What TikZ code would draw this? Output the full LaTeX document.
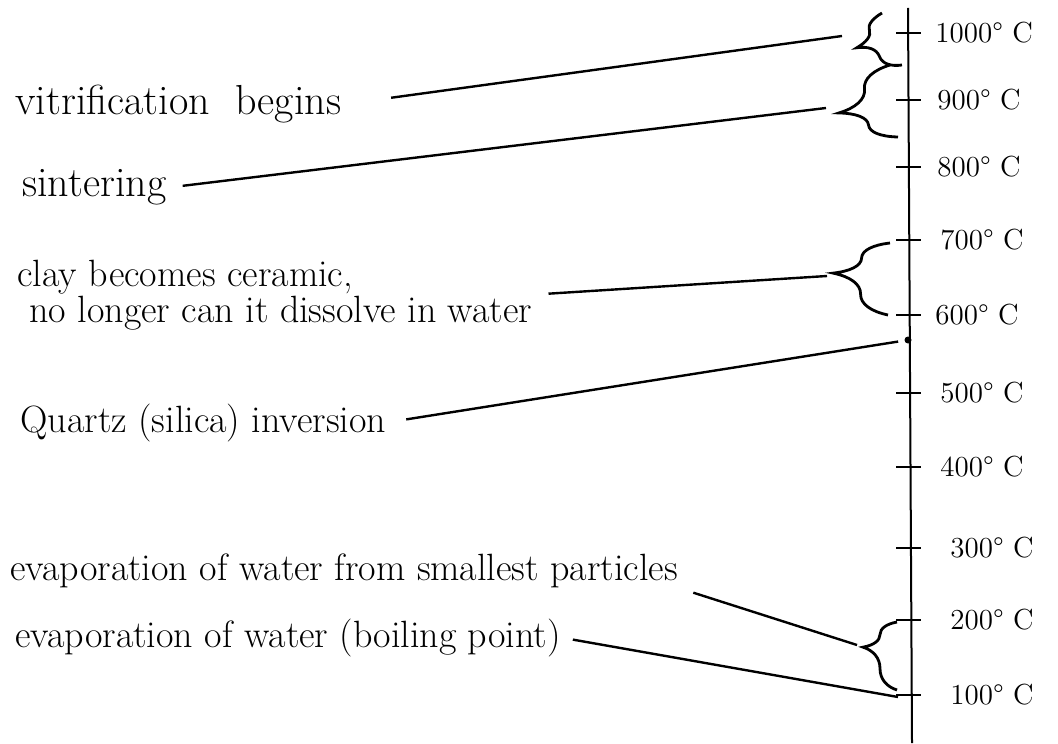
\documentclass[tikz,border=0pt]{standalone}
\usetikzlibrary{decorations.pathreplacing}

\tikzset{
  ruler/.style={line width=1pt},
  tickmark/.style={line width=1.4pt},
  grad/.style={font=\fontsize{14.5}{16}\selectfont, anchor=west, inner sep=0pt},
  note/.style={font=\fontsize{19}{18}\selectfont, anchor=base west, inner sep=0pt, align=left},
  bignote/.style={note, font=\fontsize{21}{24}\selectfont},
  link/.style={line width=1.2pt, shorten <=8pt},
  bracket/.style={decorate, decoration={brace, amplitude=#1}, line width=1.4pt}
}

\begin{document}
\begin{tikzpicture}[x=0.5pt, y=-0.5pt]
        \useasboundingbox (0,0) rectangle (1058,743);

        % Axe des temperatures
        \coordinate (top) at (908,8);
        \coordinate (bot) at (912,743);
        \draw[ruler] (top) -- (bot);

        \foreach \t/\y/\lx in {1000/33/935, 900/100/937, 800/167/937, 700/240/940, 600/315/935,
                               500/393/940, 400/467/940, 300/548/950, 200/620/950, 100/695/950} {
            \draw[tickmark] (896,\y) -- (921,\y);
            \node[grad] (t\t) at (\lx,\y) {\t\textdegree\ C};
        }

        % Point de l'inversion
        \coordinate (inv) at (908,340);
        \fill (inv) circle (3.5);

        % Accolades
        \coordinate (b1top) at (882,13);
        \coordinate (b1bot) at (902,65);
        \coordinate (b2top) at (890,65);
        \coordinate (b2bot) at (898,137);
        \coordinate (b3top) at (890,243);
        \coordinate (b3bot) at (888,315);
        \coordinate (b4top) at (897,622);
        \coordinate (b4bot) at (897,690);
        \draw[bracket=18pt, decoration={aspect=0.58}] (b1bot) -- (b1top);
        \draw[bracket=28pt, decoration={aspect=0.42}] (b2bot) -- (b2top);
        \draw[bracket=28pt, decoration={aspect=0.56}] (b3bot) -- (b3top);
        \draw[bracket=17pt, decoration={aspect=0.63}] (b4bot) -- (b4top);

        \coordinate (tip1) at (842,36);
        \coordinate (tip2) at (826,108);
        \coordinate (tip3) at (827,276);
        \coordinate (tip4) at (857,645);
        \coordinate (c100) at (898,697);

        % Textes
        \node[bignote] (vitr) at (15,115) {vitrification\ \ begins};
        \node[bignote] (sint) at (22,197) {sintering};
        \node[note] (clay) at (17,322) {clay becomes ceramic,\\\hspace*{6pt}no longer can it dissolve in water};
        \node[note] (quartz) at (20,432) {Quartz (silica) inversion};
        \node[note] (small) at (10,580) {evaporation of water from smallest particles};
        \node[note] (boil) at (15,647) {evaporation of water (boiling point)};

        % Traits
        \draw[link, shorten <=25pt] (vitr.east) -- (tip1);
        \draw[link] (sint.east) -- (tip2);
        \draw[link] (clay.east) -- (tip3);
        \draw[link, shorten <=10pt, shorten >=5pt] (quartz.east) -- (inv);
        \draw[link] (small.south east) -- (tip4);
        \draw[link, shorten <=6pt] (boil.east) -- (c100);
    \end{tikzpicture}
\end{document}
